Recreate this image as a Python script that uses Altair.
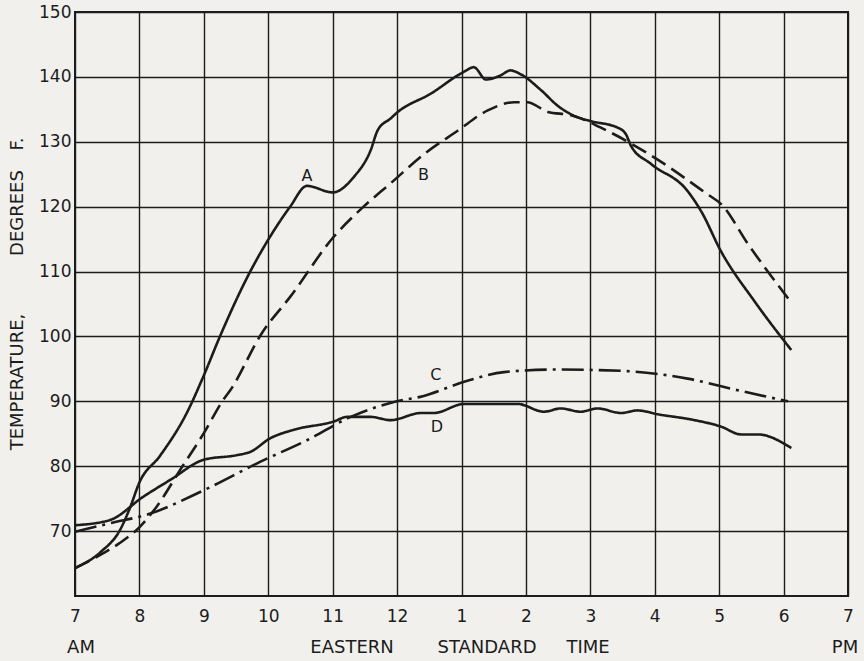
import altair as alt
import pandas as pd

# ---- data (hour of day, 24h clock; temperature °F) ----
a_hour = [7.0, 7.4, 7.7, 7.85, 8.0, 8.32, 8.74, 9.0, 9.25, 9.72, 10.03, 10.34, 10.6,
          11.0, 11.33, 11.59, 11.7, 11.9, 12.0, 12.52, 13.04, 13.19, 13.38, 13.6, 13.76,
          13.92, 14.23, 14.5, 14.75, 15.0, 15.42, 15.55, 15.63, 15.94, 16.51, 16.72,
          17.03, 17.55, 18.12]
a_temp = [64.3, 66.8, 70.2, 73.5, 77.5, 81.6, 88.3, 94.0, 100.0, 110.0, 115.4, 120.0, 123.2,
          122.2, 124.6, 128.7, 131.8, 133.6, 134.5, 137.4, 140.8, 141.5, 139.6, 140.2, 141.0,
          140.4, 138.0, 135.5, 134.0, 133.2, 132.2, 131.2, 129.4, 126.6, 122.4, 119.3,
          113.1, 105.4, 97.9]

b_hour = [7.0, 7.44, 7.7, 8.01, 8.27, 8.63, 9.0, 9.3, 9.41, 9.9, 10.34, 11.02, 11.48,
          11.9, 12.42, 12.94, 13.4, 13.82, 14.02, 14.34, 14.7, 15.26, 15.99, 16.82, 17.03,
          17.45, 18.09]
b_temp = [64.3, 66.6, 68.2, 70.7, 73.8, 79.4, 85.1, 90.2, 91.7, 100.5, 106.1, 115.4, 120.0,
          123.6, 128.1, 131.7, 134.8, 136.1, 136.1, 134.6, 134.1, 131.7, 127.6, 121.9, 120.4,
          114.2, 105.6]

c_hour = [7.0, 7.54, 8.17, 9.0, 9.88, 10.6, 11.28, 11.95, 12.4, 13.04, 13.66, 14.44,
          15.48, 16.51, 17.29, 18.07]
c_temp = [69.9, 71.2, 72.7, 76.3, 80.7, 84.0, 87.6, 89.9, 90.8, 93.0, 94.5, 94.9,
          94.7, 93.5, 91.7, 90.0]

d_hour = [7.0, 7.54, 8.06, 8.48, 9.0, 9.51, 9.72, 10.03, 10.39, 11.02, 11.22, 11.59,
          11.9, 12.37, 12.57, 13.04, 13.87, 14.28, 14.54, 14.85, 15.11, 15.48, 15.73,
          16.05, 16.62, 17.03, 17.34, 17.6, 18.12]
d_temp = [70.9, 71.7, 75.3, 77.9, 81.0, 81.7, 82.2, 84.3, 85.6, 86.9, 87.6, 87.6,
          87.1, 88.2, 88.2, 89.6, 89.6, 88.4, 88.9, 88.4, 88.9, 88.2, 88.6,
          88.0, 87.1, 86.1, 84.9, 84.9, 82.8]

series_names = ["A", "B", "C", "D"]
label_hour = [10.6, 12.41, 12.6, 12.62]
label_temp = [124.8, 124.9, 94.0, 86.1]

x_ticks = list(range(7, 20))
y_ticks = list(range(70, 151, 10))
x_title_words = ["EASTERN", "STANDARD", "TIME"]
am_pm = ["AM", "PM"]
y_title_words = ["TEMPERATURE,", "DEGREES", "F."]

# ---- tables ----
rows = []
for name, hs, ts in zip(series_names, [a_hour, b_hour, c_hour, d_hour],
                        [a_temp, b_temp, c_temp, d_temp]):
    for h, t in zip(hs, ts):
        rows.append({"series": name, "hour": h, "temp": t})
df = pd.DataFrame(rows)
labels_df = pd.DataFrame({"series": series_names, "hour": label_hour, "temp": label_temp})

W, H = 773, 584
INK = "#1c1c1c"
FONT = "DejaVu Sans"

x_scale = alt.Scale(domain=[7, 19], nice=False, zero=False)
y_scale = alt.Scale(domain=[60, 150], nice=False, zero=False)

x_axis = alt.Axis(values=x_ticks, labelExpr="datum.value > 12 ? datum.value - 12 : datum.value",
                  grid=True, gridColor=INK, gridWidth=1.4, gridOpacity=1, ticks=False,
                  domain=False, title=None, labelFont=FONT, labelFontSize=17, labelColor=INK,
                  labelPadding=12, labelFlush=False)
y_axis = alt.Axis(values=y_ticks, grid=True, gridColor=INK, gridWidth=1.4, gridOpacity=1,
                  ticks=False, domain=False, title=None, labelFont=FONT, labelFontSize=17,
                  labelColor=INK, labelPadding=4, labelFlush=False)

lines = alt.Chart(df).mark_line(color=INK, strokeWidth=2.6, interpolate="monotone",
                                strokeCap="butt").encode(
    x=alt.X("hour:Q", scale=x_scale, axis=x_axis),
    y=alt.Y("temp:Q", scale=y_scale, axis=y_axis),
    strokeDash=alt.StrokeDash("series:N", scale=alt.Scale(
        domain=series_names, range=[[1, 0], [16, 7], [22, 6, 3, 6], [1, 0]]), legend=None),
    detail="series:N",
)

curve_labels = alt.Chart(labels_df).mark_text(font=FONT, fontSize=16, color=INK).encode(
    x=alt.X("hour:Q", scale=x_scale),
    y=alt.Y("temp:Q", scale=y_scale),
    text="series:N",
)

def word(text, px, py, angle=0):
    return alt.Chart(pd.DataFrame({"w": [text]})).mark_text(
        font=FONT, fontSize=18, color=INK, angle=angle, baseline="middle", align="center"
    ).encode(x=alt.value(px), y=alt.value(py), text="w:N")

titles = [
    word(x_title_words[0], 277, 636),
    word(x_title_words[1], 412, 636),
    word(x_title_words[2], 513, 636),
    word(am_pm[0], 6, 636),
    word(am_pm[1], 770, 636),
    word(y_title_words[0], -57, 370, 270),
    word(y_title_words[1], -57, 201, 270),
    word(y_title_words[2], -57, 132, 270),
]

chart = alt.layer(lines, curve_labels, *titles).properties(
    width=W, height=H,
    background="#f1f0ec",
    padding={"left": 75, "top": 12, "right": 16, "bottom": 65},
    autosize=alt.AutoSizeParams(type="none"),
).configure_view(stroke=INK, strokeWidth=2)

chart.save("out.html", embed_options={"renderer": "svg", "actions": False})
